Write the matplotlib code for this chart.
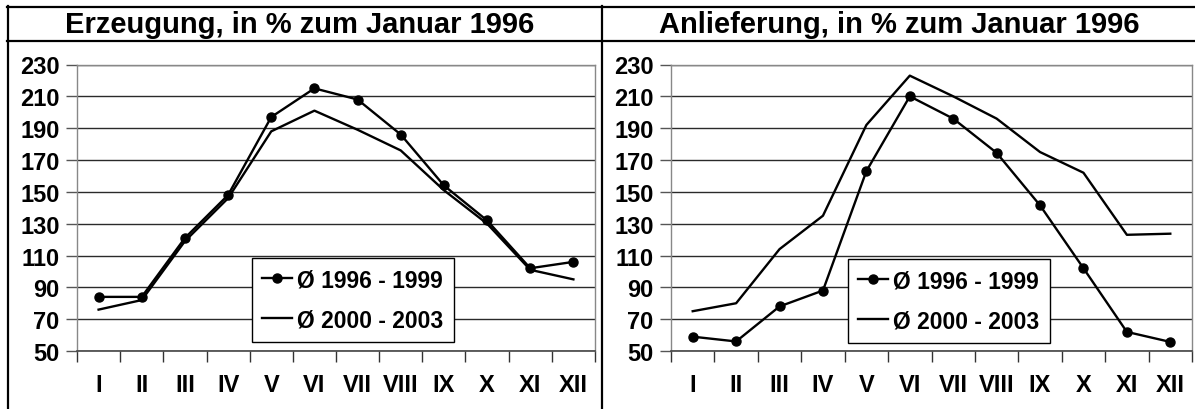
import matplotlib
matplotlib.use("Agg")
import matplotlib.pyplot as plt
from matplotlib.lines import Line2D
import numpy as np

months = ["I", "II", "III", "IV", "V", "VI", "VII", "VIII", "IX", "X", "XI", "XII"]
series_labels = ["Ø 1996 - 1999", "Ø 2000 - 2003"]

erz_1996_1999 = [84, 84, 121, 148, 197, 215, 208, 186, 154, 132, 102, 106]
erz_2000_2003 = [76, 82, 119, 146, 188, 201, 189, 176, 151, 130, 101, 95]

anl_1996_1999 = [59, 56, 78, 88, 163, 210, 196, 174.5, 141.5, 102, 62, 55.7]
anl_2000_2003 = [75, 80, 114, 135, 192, 223, 210, 196, 175, 162, 123, 123.7]

titles = ["Erzeugung, in % zum Januar 1996", "Anlieferung, in % zum Januar 1996"]
yticks = list(range(50, 231, 20))

plt.rcParams['font.family'] = ['Liberation Sans', 'DejaVu Sans']
plt.rcParams['font.weight'] = 'bold'

W, H = 1195, 410
fig = plt.figure(figsize=(W / 100, H / 100), dpi=100)

def fx(px):
    return px / W

def fy(py):
    return 1 - py / H

# frame lines
lw_frame = 1.6
for (x0, y0, x1, y1) in [(7, 7.5, 1195, 7.5), (7, 42, 1195, 42), (8, 7, 8, 410), (602, 7, 602, 410)]:
    fig.add_artist(Line2D([fx(x0), fx(x1)], [fy(y0), fy(y1)], color='black', lw=lw_frame,
                          transform=fig.transFigure, solid_capstyle='projecting'))

panels = [
    (77, 595, titles[0], erz_1996_1999, erz_2000_2003, (0.337, 0.032), 300),
    (671, 1192, titles[1], anl_1996_1999, anl_2000_2003, (0.339, 0.029), 899),
]

top_px, bot_px = 65.5, 352
for (l, r, title, s1, s2, legpos, tcx) in panels:
    ax = fig.add_axes([fx(l), fy(bot_px), fx(r) - fx(l), (bot_px - top_px) / H])
    x = np.arange(len(months))
    ax.plot(x, s1, color='black', lw=1.7, marker='o', markersize=6.5, label=series_labels[0], zorder=3)
    ax.plot(x, s2, color='black', lw=1.7, label=series_labels[1], zorder=3)
    ax.set_xlim(-0.5, len(months) - 0.5)
    ax.set_ylim(50, 230)
    ax.set_yticks(yticks)
    ax.set_yticklabels([str(v) for v in yticks], fontsize=17, fontweight='bold')
    ax.set_xticks(x)
    ax.set_xticklabels(months, fontsize=17, fontweight='bold')
    ax.set_xticks(np.arange(-0.5, len(months)), minor=True)
    ax.tick_params(axis='x', which='major', length=0, pad=16)
    ax.tick_params(axis='x', which='minor', length=8, width=1, color='#333333', direction='out')
    ax.tick_params(axis='y', which='major', length=8, width=1, color='#555555', direction='out', pad=4.5)
    ax.yaxis.grid(True, color='#2a2a2a', lw=1)
    ax.set_axisbelow(True)
    for sp in ['left', 'top', 'right']:
        ax.spines[sp].set_color('#888888')
        ax.spines[sp].set_linewidth(1)
    ax.spines['bottom'].set_color('#444444')
    ax.spines['bottom'].set_linewidth(1.2)
    leg = ax.legend(loc='lower left', bbox_to_anchor=legpos, fontsize=16.5, frameon=True,
                    fancybox=False, edgecolor='black', framealpha=1, handlelength=1.3,
                    handletextpad=0.25, borderpad=0.45, labelspacing=0.75, borderaxespad=0)
    leg.get_frame().set_linewidth(1)
    for t in leg.get_texts():
        t.set_fontweight('bold')
    fig.text(fx(tcx), fy(25), title, ha='center', va='center', fontsize=21, fontweight='bold')

fig.savefig("out.png", dpi=100)
